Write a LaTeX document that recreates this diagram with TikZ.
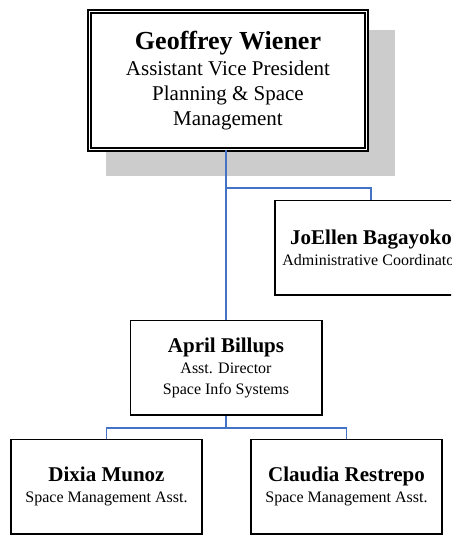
\documentclass[tikz,border=0pt]{standalone}
\usepackage{fontspec}
\setmainfont{Liberation Serif}
\definecolor{connblue}{HTML}{4472C4}
\definecolor{shadowgray}{HTML}{CCCCCC}
\newcommand{\nmbig}{\fontsize{26}{26}\bfseries}
\newcommand{\nm}{\fontsize{21}{21}\bfseries}
\begin{document}
\begin{tikzpicture}[x=1pt,y=-1pt,
  box/.style={draw=black,line width=1.6pt,fill=white,inner sep=0pt,align=center,
    font=\fontsize{16}{21}\selectfont},
  topbox/.style={draw=black,line width=1.5pt,double=white,double distance=1.8pt,fill=white,
    inner sep=0pt,align=center,font=\fontsize{21}{25}\selectfont,
    minimum width=277pt,minimum height=138pt},
  smallbox/.style={box,minimum width=191.4pt,minimum height=94.4pt},
  conn/.style={draw=connblue,line width=1.5pt}]
\useasboundingbox (0,0) rectangle (451,535);
\clip (0,0) rectangle (451,535);
% shadow of the top box
\fill[shadowgray] (106,30) rectangle (395,176);
% boxes
\node[topbox] (top) at (228,80.5) {{\nmbig Geoffrey Wiener}\\[1pt]Assistant Vice President\\Planning \& Space\\Management};
\node[smallbox,minimum width=192.4pt] (jo) at (371,247.5) {{\nm JoEllen Bagayoko}\\Administrative Coordinator};
\node[smallbox] (april) at (226,367.5) {{\nm April Billups}\\Asst. Director\\Space Info Systems};
\node[smallbox] (dixia) at (106.5,486.5) {{\nm Dixia Munoz}\\Space Management Asst.};
\node[smallbox] (claudia) at (346.5,486.5) {{\nm Claudia Restrepo}\\Space Management Asst.};
% connectors
\coordinate (jbr) at (226,188);
\coordinate (kbr) at (226,428);
\draw[conn] (april.north |- top.south) -- (april.north);
\draw[conn] (jbr) -| (jo.north);
\draw[conn] (april.south) -- (kbr);
\draw[conn] (dixia.north) |- (kbr) -| (claudia.north);
\end{tikzpicture}
\end{document}
